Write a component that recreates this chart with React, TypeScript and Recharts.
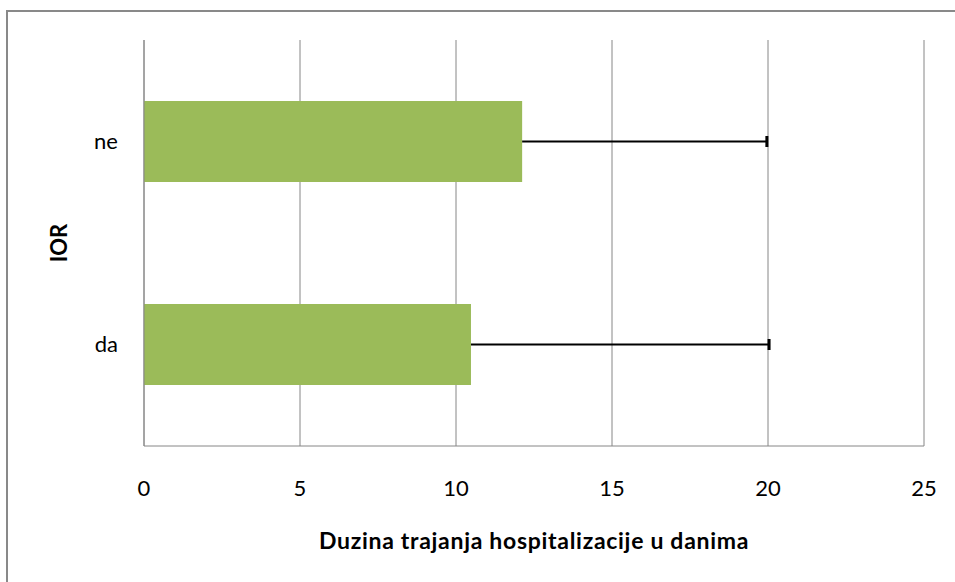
import { Bar, BarChart, CartesianGrid, XAxis, YAxis } from 'recharts';

const categories = ['ne', 'da'];
const meanDays = [12.12, 10.48];
const errorPlus = [7.86, 9.57];
const xTicks = [0, 5, 10, 15, 20, 25];

const data = categories.map((ior, i) => ({
  ior,
  mean: meanDays[i],
  err: errorPlus[i],
}));

const GREEN = '#9BBB59';
const GRID = '#868686';
const FONT = 'Lato, "Open Sans", sans-serif';

// one-sided error bar: stacked on top of the mean, drawn as a line + end cap
const ErrorShape = (props: any) => {
  const { x, y, width, height } = props;
  const cy = y + height / 2;
  return (
    <g>
      <line x1={x} x2={x + width} y1={cy} y2={cy} stroke="#000" strokeWidth={2.2} />
      <rect x={x + width - 2} y={cy - 5.5} width={3} height={11} fill="#000" />
    </g>
  );
};

const XTitle = (props: any) => {
  const vb = props.viewBox;
  return (
    <text
      x={vb.x + vb.width / 2}
      y={vb.y + 103}
      textAnchor="middle"
      fontFamily={FONT}
      fontWeight="bold"
      fontSize={23}
      letterSpacing={0.7}
      fill="#000"
    >
      Duzina trajanja hospitalizacije u danima
    </text>
  );
};

const YTitle = (props: any) => {
  const vb = props.viewBox;
  const cx = 58;
  const cy = vb.y + vb.height / 2;
  return (
    <text
      x={cx}
      y={cy}
      transform={`rotate(-90 ${cx} ${cy})`}
      textAnchor="middle"
      dominantBaseline="central"
      fontFamily={FONT}
      fontWeight="bold"
      fontSize={22}
      fill="#000"
    >
      IOR
    </text>
  );
};

export default function App() {
  return (
    <div style={{ position: 'absolute', left: 0, top: 0, width: 955, height: 582, background: '#fff', overflow: 'hidden' }}>
      <div
        style={{
          position: 'absolute',
          left: 6,
          top: 10,
          width: 1000,
          height: 700,
          borderLeft: '2px solid #898989',
          borderTop: '2px solid #898989',
        }}
      />
      <BarChart
        width={955}
        height={582}
        data={data}
        layout="vertical"
        margin={{ top: 40, right: 31, left: 0, bottom: 0 }}
        barSize={81}
        style={{ position: 'absolute', left: 0, top: 0 }}
      >
        <CartesianGrid horizontal={false} stroke={GRID} />
        <XAxis
          type="number"
          domain={[0, 25]}
          ticks={xTicks}
          interval={0}
          height={136}
          tickLine={false}
          tickSize={0}
          tickMargin={34}
          axisLine={{ stroke: GRID }}
          tick={{ fill: '#000', fontSize: 22, fontFamily: FONT }}
          label={XTitle}
        />
        <YAxis
          type="category"
          dataKey="ior"
          width={144}
          tickLine={false}
          tickSize={0}
          tickMargin={26}
          axisLine={{ stroke: GRID }}
          tick={{ fill: '#000', fontSize: 22, fontFamily: FONT }}
          label={YTitle}
        />
        <Bar dataKey="mean" stackId="a" fill={GREEN} isAnimationActive={false} />
        <Bar dataKey="err" stackId="a" shape={ErrorShape} isAnimationActive={false} />
      </BarChart>
    </div>
  );
}
